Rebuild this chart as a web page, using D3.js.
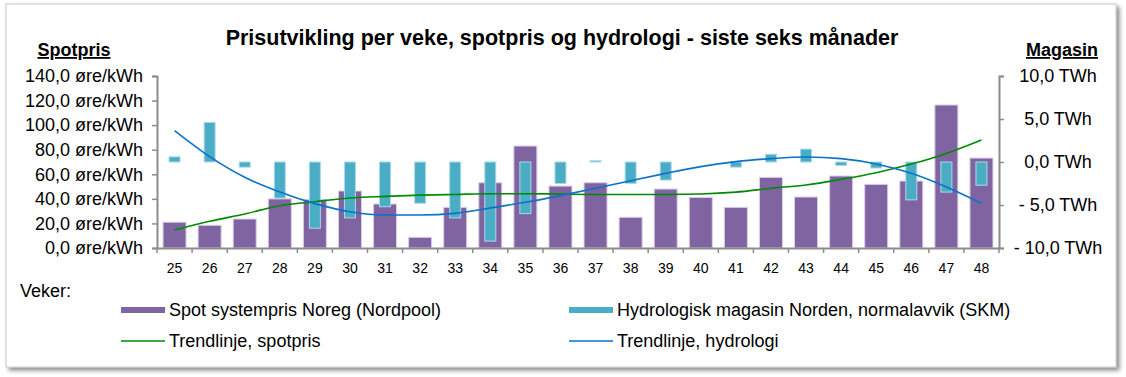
<!DOCTYPE html>
<html>
<head>
<meta charset="utf-8">
<script src="https://d3js.org/d3.v7.min.js"></script>
<style>
body{margin:0;background:#fff;font-family:Arial,"Liberation Sans",sans-serif;}
</style>
</head>
<body>
<svg id="chart" width="1126" height="377"></svg>
<script>
//weeks shown on the x axis
var weeks=["25","26","27","28","29","30","31","32","33","34","35","36","37","38","39","40","41","42","43","44","45","46","47","48"];
//spot system price Norway, ore/kWh
var spotValues=[21,18.5,23.6,40,39.6,46.4,35.8,8.7,33.1,53.1,83,50.4,53.1,25,48,41.2,33.1,57.5,41.5,58.6,51.8,54.5,116.4,73.2];
//hydrological reservoir deviation from normal, TWh
var hydroValues=[0.6,4.6,-0.6,-4.2,-7.7,-6.5,-5.2,-4.8,-6.5,-9.2,-6.0,-2.5,0.15,-2.5,-2.1,0,-0.6,0.9,1.5,-0.4,-0.7,-4.4,-3.5,-2.7];
//trendlines at each week
var spotTrend=[14.6,21.7,27.7,34.4,37.7,40.7,42,43,43.6,44.2,44.2,43.9,43.6,43.6,43.6,44,45.5,48.6,51.3,55.9,61.3,68.3,77,87.9];
var hydroTrend=[3.64,0.62,-1.78,-3.49,-4.84,-5.78,-6.16,-6.16,-5.97,-5.35,-4.69,-3.91,-3.06,-2.17,-1.32,-0.54,0.04,0.39,0.58,0.39,-0.23,-1.32,-2.91,-4.81];
//tick labels
var leftTicks=[0,20,40,60,80,100,120,140];
var rightTicks=[-10,-5,0,5,10];

var svg=d3.select("#chart");
var font="Arial, 'Liberation Sans', sans-serif";

//card with drop shadow
var defs=svg.append("defs");
var filter=defs.append("filter").attr("id","shadow").attr("x","-5%").attr("y","-5%").attr("width","110%").attr("height","115%");
filter.append("feDropShadow").attr("dx",3).attr("dy",3).attr("stdDeviation",2).attr("flood-color","#000").attr("flood-opacity",0.45);
svg.append("rect")
	.attr("x",6).attr("y",4).attr("width",1110).attr("height",363)
	.attr("fill","#fff").attr("stroke","#c8c8c8").attr("stroke-width",1)
	.attr("filter","url(#shadow)");

var plot={left:157,right:999,top:76,bottom:248};

var x=d3.scaleBand().domain(weeks).range([plot.left,plot.right]).padding(0);
var yLeft=d3.scaleLinear().domain([0,140]).range([plot.bottom,plot.top]);
var yRight=d3.scaleLinear().domain([-10,10]).range([plot.bottom,plot.top]);

function fmt(v){
	return d3.format(".1f")(Math.abs(v)).replace(".",",");
}

//title
svg.append("text")
	.attr("x",562).attr("y",45)
	.attr("text-anchor","middle")
	.style("font-size","21.5px").style("font-weight","bold")
	.text("Prisutvikling per veke, spotpris og hydrologi - siste seks månader");

svg.append("text")
	.attr("x",74).attr("y",56).attr("text-anchor","middle")
	.style("font-size","18px").style("font-weight","bold").style("text-decoration","underline")
	.text("Spotpris");
svg.append("text")
	.attr("x",1062).attr("y",56).attr("text-anchor","middle")
	.style("font-size","18px").style("font-weight","bold").style("text-decoration","underline")
	.text("Magasin");

//bars, spot price
svg.append("g").selectAll("rect")
	.data(spotValues)
	.enter().append("rect")
	.attr("x",function(d,i){return x(weeks[i])+x.bandwidth()/2-11.5;})
	.attr("width",23)
	.attr("y",function(d){return yLeft(d);})
	.attr("height",function(d){return yLeft(0)-yLeft(d);})
	.attr("fill","#8064a2").attr("stroke","#d9cfe6").attr("stroke-width",1);

//bars, hydrology
svg.append("g").selectAll("rect")
	.data(hydroValues)
	.enter().append("rect")
	.attr("x",function(d,i){return x(weeks[i])+x.bandwidth()/2-5.5;})
	.attr("width",11)
	.attr("y",function(d){return yRight(Math.max(0,d));})
	.attr("height",function(d){return Math.abs(yRight(d)-yRight(0));})
	.attr("fill","#4bacc6").attr("stroke","#a9dbe8").attr("stroke-width",1)
	.style("display",function(d){return d===0?"none":null;});

//trendlines
var lineLeft=d3.line()
	.x(function(d,i){return x(weeks[i])+x.bandwidth()/2;})
	.y(function(d){return yLeft(d);})
	.curve(d3.curveMonotoneX);
var lineRight=d3.line()
	.x(function(d,i){return x(weeks[i])+x.bandwidth()/2;})
	.y(function(d){return yRight(d);})
	.curve(d3.curveMonotoneX);
svg.append("path").datum(spotTrend).attr("d",lineLeft)
	.attr("fill","none").attr("stroke","#008a00").attr("stroke-width",1.6);
svg.append("path").datum(hydroTrend).attr("d",lineRight)
	.attr("fill","none").attr("stroke","#0a72c8").attr("stroke-width",1.6);

//axes
var axisLeft=d3.axisLeft(yLeft).tickValues(leftTicks).tickSize(5).tickPadding(9)
	.tickFormat(function(d){return fmt(d)+" øre/kWh";});
var gLeft=svg.append("g").attr("transform","translate("+plot.left+",0)").call(axisLeft);

var axisRight=d3.axisRight(yRight).tickValues(rightTicks).tickSize(5).tickPadding(0)
	.tickFormat(function(d){return (d<0?"- ":"")+fmt(d)+" TWh";});
var gRight=svg.append("g").attr("transform","translate("+plot.right+",0)").call(axisRight);

var axisBottom=d3.axisBottom(x).tickSize(0).tickPadding(15);
var gBottom=svg.append("g").attr("transform","translate(0,"+plot.bottom+")").call(axisBottom);
//tick marks between categories
gBottom.selectAll(".sep")
	.data(weeks.concat(["end"]))
	.enter().append("line")
	.attr("class","sep")
	.attr("x1",function(d,i){return plot.left+i*x.step();})
	.attr("x2",function(d,i){return plot.left+i*x.step();})
	.attr("y1",0).attr("y2",5);

[gLeft,gRight,gBottom].forEach(function(g){
	g.selectAll(".domain").attr("stroke","#8c8c8c").attr("stroke-width",2);
	g.selectAll("line").attr("stroke","#8c8c8c").attr("stroke-width",1.5);
	g.selectAll("text").style("font-family",font).style("font-size","18px").attr("fill","#000");
});
gRight.selectAll("text").attr("x",59).attr("text-anchor","middle");
gBottom.selectAll("text").style("font-size","14px");

//legend
svg.append("text").attr("x",20).attr("y",297).style("font-size","18px").text("Veker:");

var legendItems=[
	{label:"Spot systempris Noreg (Nordpool)",type:"bar",color:"#8064a2",x:121,y:310},
	{label:"Hydrologisk magasin Norden, normalavvik (SKM)",type:"bar",color:"#4bacc6",x:569,y:310},
	{label:"Trendlinje, spotpris",type:"line",color:"#008a00",x:121,y:341},
	{label:"Trendlinje, hydrologi",type:"line",color:"#0a72c8",x:569,y:341}
];
var legend=svg.append("g").selectAll("g").data(legendItems).enter().append("g");
legend.filter(function(d){return d.type==="bar";}).append("rect")
	.attr("x",function(d){return d.x;}).attr("y",function(d){return d.y-3;})
	.attr("width",44).attr("height",6).attr("fill",function(d){return d.color;});
legend.filter(function(d){return d.type==="line";}).append("line")
	.attr("x1",function(d){return d.x;}).attr("x2",function(d){return d.x+44;})
	.attr("y1",function(d){return d.y;}).attr("y2",function(d){return d.y;})
	.attr("stroke",function(d){return d.color;}).attr("stroke-width",1.6);
legend.append("text")
	.attr("x",function(d){return d.x+48;}).attr("y",function(d){return d.y+6;})
	.style("font-size","18px")
	.text(function(d){return d.label;});
</script>
</body>
</html>
